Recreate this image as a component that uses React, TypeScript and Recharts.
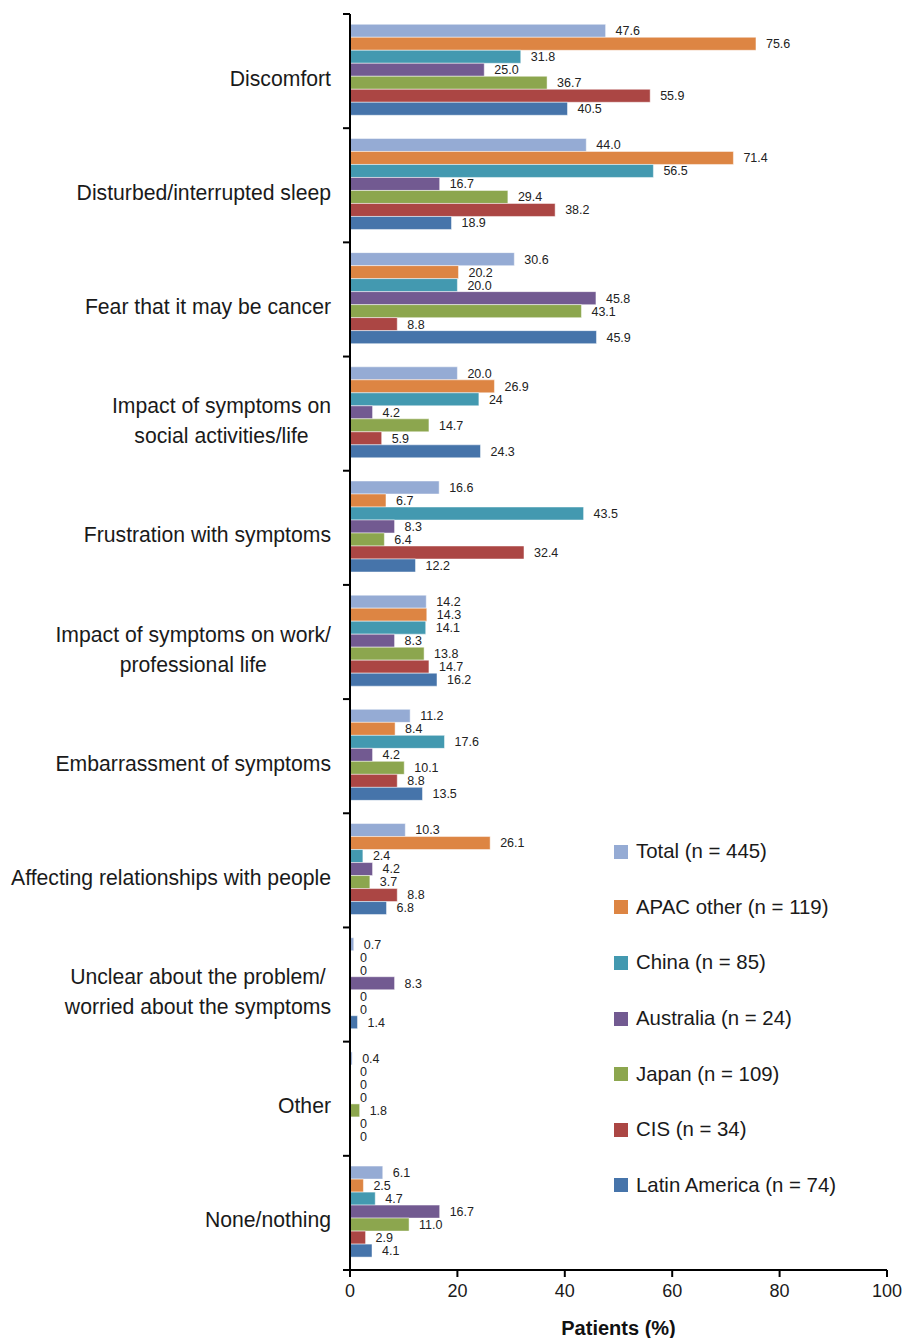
import { Bar, BarChart, LabelList, XAxis, YAxis, Label } from "recharts";

const categories = [
  "Discomfort",
  "Disturbed/interrupted sleep",
  "Fear that it may be cancer",
  "Impact of symptoms on\nsocial activities/life",
  "Frustration with symptoms",
  "Impact of symptoms on work/\nprofessional life",
  "Embarrassment of symptoms",
  "Affecting relationships with people",
  "Unclear about the problem/\nworried about the symptoms",
  "Other",
  "None/nothing",
];

const seriesNames = [
  "Total (n = 445)",
  "APAC other (n = 119)",
  "China (n = 85)",
  "Australia (n = 24)",
  "Japan (n = 109)",
  "CIS (n = 34)",
  "Latin America (n = 74)",
];

const seriesColors = ["#95abd4", "#dd8543", "#4399b0", "#725a91", "#8ca64e", "#ab4644", "#4674aa"];

// values as printed on the chart
const total = ["47.6", "44.0", "30.6", "20.0", "16.6", "14.2", "11.2", "10.3", "0.7", "0.4", "6.1"];
const apacOther = ["75.6", "71.4", "20.2", "26.9", "6.7", "14.3", "8.4", "26.1", "0", "0", "2.5"];
const china = ["31.8", "56.5", "20.0", "24", "43.5", "14.1", "17.6", "2.4", "0", "0", "4.7"];
const australia = ["25.0", "16.7", "45.8", "4.2", "8.3", "8.3", "4.2", "4.2", "8.3", "0", "16.7"];
const japan = ["36.7", "29.4", "43.1", "14.7", "6.4", "13.8", "10.1", "3.7", "0", "1.8", "11.0"];
const cis = ["55.9", "38.2", "8.8", "5.9", "32.4", "14.7", "8.8", "8.8", "0", "0", "2.9"];
const latinAmerica = ["40.5", "18.9", "45.9", "24.3", "12.2", "16.2", "13.5", "6.8", "1.4", "0", "4.1"];

const xTicks = [0, 20, 40, 60, 80, 100];

const series = [total, apacOther, china, australia, japan, cis, latinAmerica];

const data = categories.map((name, i) => {
  const row: Record<string, string | number> = { name };
  series.forEach((s, k) => {
    row["s" + k] = Number(s[i]);
    row["l" + k] = s[i];
  });
  return row;
});

const FONT = "'Liberation Sans', Arial, sans-serif";
const PLOT_TOP = 14;
const PLOT_BOTTOM = 1270;
const BAND = (PLOT_BOTTOM - PLOT_TOP) / categories.length;
const CAT_SIZE = 21.2;

let ctx: CanvasRenderingContext2D | null = null;
function textWidth(s: string) {
  if (!ctx) ctx = document.createElement("canvas").getContext("2d");
  if (!ctx) return s.length * 10;
  ctx.font = `${CAT_SIZE}px 'Liberation Sans'`;
  return ctx.measureText(s).width;
}

function CategoryTick(props: any) {
  const { x, y, payload, index } = props;
  const lines = String(payload.value).split("\n");
  const maxW = Math.max(...lines.map(textWidth));
  const cx = x - 19 - maxW / 2;
  const top = y - BAND / 2;
  return (
    <g>
      <line x1={x - 7} x2={x} y1={top} y2={top} stroke="#000" strokeWidth={2} />
      {index === categories.length - 1 && (
        <line x1={x - 7} x2={x} y1={y + BAND / 2} y2={y + BAND / 2} stroke="#000" strokeWidth={2} />
      )}
      <text fontSize={CAT_SIZE} fontFamily={FONT} fill="#1a1a1a" textAnchor="middle">
        {lines.map((l, i) => (
          <tspan key={i} x={cx} y={y + 7 + (i - (lines.length - 1) / 2) * 30} dominantBaseline="central">
            {l}
          </tspan>
        ))}
      </text>
    </g>
  );
}

export default function App() {
  return (
    <div
      style={{
        position: "fixed",
        left: 0,
        top: 0,
        width: 905,
        height: 1338,
        fontFamily: FONT,
        background: "#fff",
      }}
    >
      <BarChart
        width={905}
        height={1338}
        data={data}
        layout="vertical"
        barCategoryGap="9%"
        barGap={0}
        margin={{ top: PLOT_TOP, right: 18, left: 0, bottom: 0 }}
      >
        <XAxis
          type="number"
          domain={[0, 100]}
          ticks={xTicks}
          height={68}
          tickSize={7}
          tickMargin={7}
          tickLine={{ stroke: "#000", strokeWidth: 2 }}
          axisLine={{ stroke: "#000", strokeWidth: 2 }}
          tick={{ fontSize: 18, fill: "#1a1a1a", fontFamily: FONT }}
        >
          <Label
            value="Patients (%)"
            position="insideBottom"
            offset={3}
            style={{ fontSize: 20, fontWeight: "bold", fill: "#111", fontFamily: FONT }}
          />
        </XAxis>
        <YAxis
          type="category"
          dataKey="name"
          width={350}
          tickSize={0}
          tickMargin={0}
          tickLine={false}
          axisLine={{ stroke: "#000", strokeWidth: 2 }}
          tick={<CategoryTick />}
          interval={0}
        />
        {seriesNames.map((n, k) => (
          <Bar
            key={n}
            dataKey={"s" + k}
            name={n}
            fill={seriesColors[k]}
            stroke="#ffffff"
            strokeOpacity={0.6}
            strokeWidth={0.8}
            minPointSize={0.01}
            isAnimationActive={false}
          >
            <LabelList
              dataKey={"l" + k}
              position="right"
              offset={10}
              fontSize={12.5}
              fill="#222"
              fontFamily={FONT}
            />
          </Bar>
        ))}
      </BarChart>
      <div style={{ position: "absolute", left: 614, top: 824 }}>
        {seriesNames.map((n, k) => (
          <div key={n} style={{ display: "flex", alignItems: "center", height: 55.6 }}>
            <div style={{ width: 14, height: 14, background: seriesColors[k], marginRight: 8 }} />
            <span style={{ fontSize: 20.4, color: "#1a1a1a", whiteSpace: "nowrap" }}>{n}</span>
          </div>
        ))}
      </div>
    </div>
  );
}
